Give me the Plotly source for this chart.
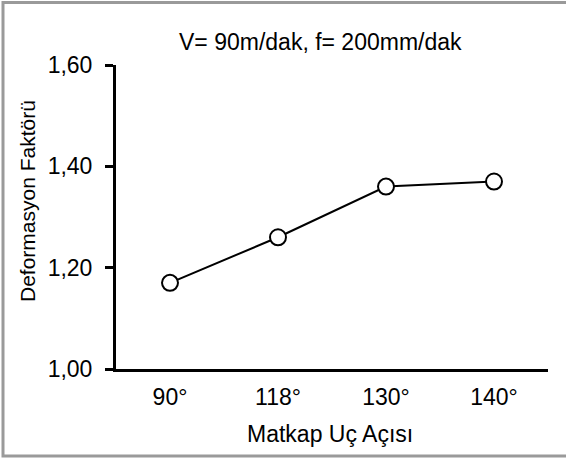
import plotly.graph_objects as go

categories = ["90°", "118°", "130°", "140°"]
values = [1.17, 1.26, 1.36, 1.37]
y_ticks = [1.00, 1.20, 1.40, 1.60]
y_tick_labels = ["1,00", "1,20", "1,40", "1,60"]

W, H = 566, 458
L, R, T, B = 116, 18, 65, 89
pw, ph = W - L - R, H - T - B

def px_x(x):
    return (x - L) / pw

def px_y(y):
    return (H - B - y) / ph

font = "Arial, Liberation Sans, sans-serif"

fig = go.Figure()
fig.add_trace(go.Scatter(
    x=categories, y=values, mode="lines+markers",
    line=dict(color="black", width=2),
    marker=dict(symbol="circle", size=16, color="white",
                line=dict(color="black", width=2)),
    showlegend=False,
))

fig.update_layout(
    width=W, height=H,
    margin=dict(l=L, r=R, t=T, b=B),
    paper_bgcolor="white", plot_bgcolor="white",
    font=dict(family=font, size=23, color="black"),
    xaxis=dict(
        type="category", range=[-0.5, 3.5],
        showline=True, linecolor="black", linewidth=3,
        ticks="", showgrid=False, zeroline=False,
        tickfont=dict(size=23), ticklabelstandoff=5,
    ),
    yaxis=dict(
        range=[1.0, 1.6], tickvals=y_ticks, ticktext=y_tick_labels,
        showline=True, linecolor="black", linewidth=3,
        ticks="outside", ticklen=8, tickwidth=3, tickcolor="black",
        showgrid=False, zeroline=False, tickfont=dict(size=23),
        ticklabelstandoff=8,
    ),
    annotations=[
        dict(text="V= 90m/dak, f= 200mm/dak", xref="paper", yref="paper",
             x=px_x(320), y=px_y(42), showarrow=False,
             xanchor="center", yanchor="middle", font=dict(size=23)),
        dict(text="Deformasyon Faktörü", xref="paper", yref="paper",
             x=px_x(28), y=px_y(201), showarrow=False, textangle=-90,
             xanchor="center", yanchor="middle", font=dict(size=21)),
        dict(text="Matkap Uç Açısı", xref="paper", yref="paper",
             x=px_x(330), y=px_y(434), showarrow=False,
             xanchor="center", yanchor="middle", font=dict(size=23)),
    ],
    shapes=[
        dict(type="rect", xref="paper", yref="paper",
             x0=px_x(3), x1=px_x(590), y0=px_y(456), y1=px_y(2.5),
             line=dict(color="#9a9a9a", width=3), fillcolor="rgba(0,0,0,0)",
             layer="below"),
    ],
)

fig.write_html("out.html")
